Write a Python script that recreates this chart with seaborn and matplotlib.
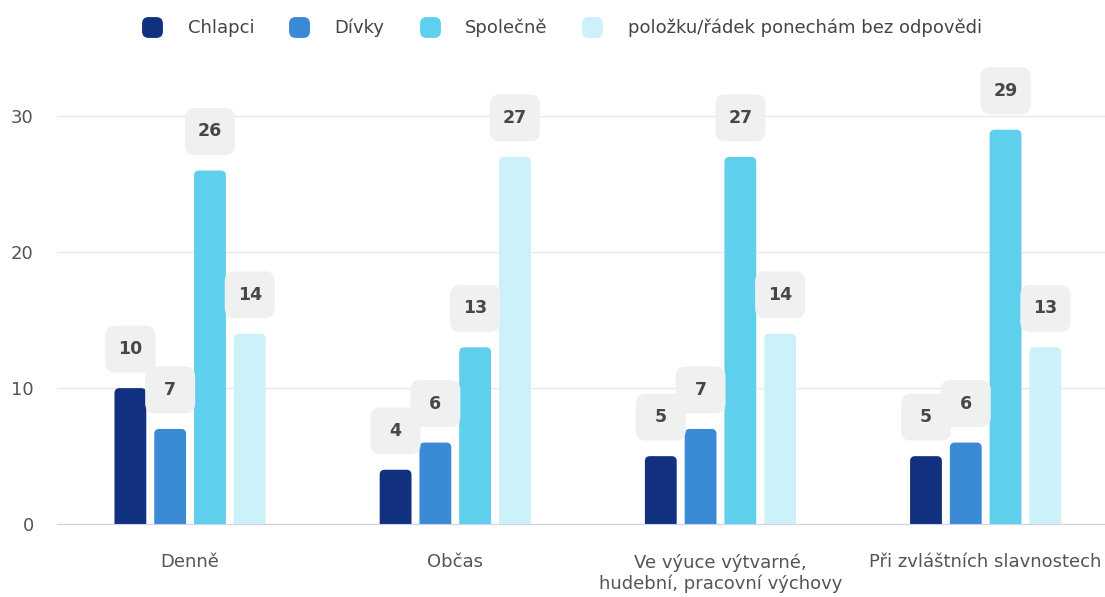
import pandas as pd
import matplotlib
matplotlib.use('Agg')
import matplotlib.pyplot as plt
from matplotlib.lines import Line2D
from matplotlib.patches import FancyBboxPatch, BoxStyle
import seaborn as sns

# chart data
categories = ["Denně", "Občas", "Ve výuce výtvarné,\nhudební, pracovní výchovy", "Při zvláštních slavnostech"]
series_names = ["Chlapci", "Dívky", "Společně", "položku/řádek ponechám bez odpovědi"]
chlapci = [10, 4, 5, 5]
divky = [7, 6, 7, 6]
spolecne = [26, 13, 27, 29]
bez_odpovedi = [14, 27, 14, 13]
colors = ["#11307f", "#3a8ad6", "#5fcfee", "#cdf1f9"]

rows = []
for name, vals in zip(series_names, [chlapci, divky, spolecne, bez_odpovedi]):
    for cat, v in zip(categories, vals):
        rows.append({"kategorie": cat, "skupina": name, "hodnota": v})
df = pd.DataFrame(rows)

sns.set_style("white")
plt.rcParams['font.family'] = ['DejaVu Sans']

W, H = 1105, 597
fig = plt.figure(figsize=(W / 100, H / 100), dpi=100)
ax = fig.add_axes([0.052, 0.122, 0.948, 0.769])

sns.barplot(data=df, x="kategorie", y="hodnota", hue="skupina", order=categories,
            hue_order=series_names, palette=colors, width=0.6, gap=0.2,
            saturation=1, legend=False, ax=ax)

XMAX, YMAX = 3.45, 33.75
ax.set_xlim(-0.5, XMAX)
ax.set_ylim(0, YMAX)

# pixel -> data unit factors (axes size is fixed)
px_x = (XMAX + 0.5) / (0.948 * W)
px_y = YMAX / (0.769 * H)
aspect = px_y / px_x

bars = [bar for container in ax.containers for bar in container]
for bar in bars:
    x, w, h = bar.get_x(), bar.get_width(), bar.get_height()
    # rounded top, bottom corners pushed below 0 and clipped
    ax.add_patch(FancyBboxPatch((x, -1), w, h + 1,
                                boxstyle=f"round,pad=0,rounding_size={5 * px_x}",
                                mutation_aspect=aspect, fc=bar.get_facecolor(),
                                ec="none", zorder=2))
    bar.set_visible(False)

    # value label in a grey rounded box
    cx = x + w / 2
    cy = h + 39 * px_y
    bw, bh = 50 * px_x, 47 * px_y
    ax.add_patch(FancyBboxPatch((cx - bw / 2, cy - bh / 2), bw, bh,
                                boxstyle=f"round,pad=0,rounding_size={10 * px_x}",
                                mutation_aspect=aspect, fc="#eff0f0", ec="none",
                                zorder=3, clip_on=False))
    ax.text(cx, cy, f"{int(h)}", ha="center", va="center", fontsize=12.5,
            fontweight="bold", color="#474747", zorder=4)

ax.set_yticks([0, 10, 20, 30])
ax.yaxis.grid(True, color="#e8e8ec", linewidth=1)
ax.set_axisbelow(True)
for side in ["top", "right", "left"]:
    ax.spines[side].set_visible(False)
ax.spines["bottom"].set_color("#cfd1ea")
ax.tick_params(axis="both", length=0, labelsize=13, labelcolor="#555555")
ax.tick_params(axis="x", pad=21)
ax.tick_params(axis="y", pad=17)
ax.set_xlabel("")
ax.set_ylabel("")

# rounded square legend markers
rsquare = BoxStyle.Round(pad=0, rounding_size=0.3)(-0.5, -0.5, 1, 1, 1)
handles = [Line2D([0], [0], marker=rsquare, linestyle="none", markersize=14,
                  markerfacecolor=c, markeredgecolor=c) for c in colors]
fig.legend(handles, series_names, loc="center", bbox_to_anchor=(0.505, 0.953),
           ncol=4, frameon=False, fontsize=13, labelcolor="#444444",
           handlelength=2, handletextpad=0.95, columnspacing=1.5)

fig.savefig("out.png", dpi=100)
